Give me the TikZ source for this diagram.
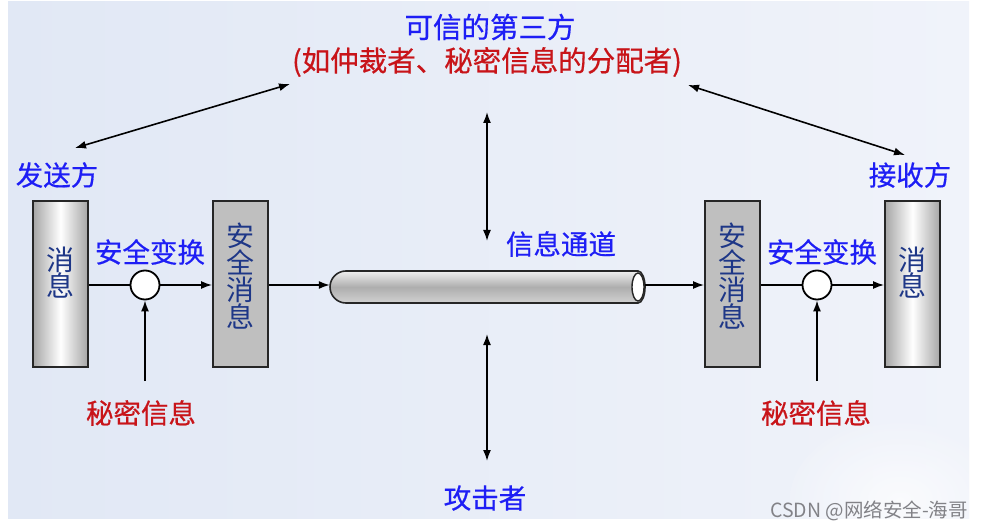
\documentclass[tikz,border=0pt]{standalone}
\usepackage{fontspec}
\setmainfont{Noto Sans CJK SC}[FakeBold=0.5]
\newfontfamily\wmfont{Noto Sans CJK SC}
\usetikzlibrary{arrows.meta}
\definecolor{bgA}{RGB}{225,232,245}
\definecolor{bgB}{RGB}{240,243,250}
\definecolor{tblue}{RGB}{30,30,245}
\definecolor{tred}{RGB}{200,20,25}
\definecolor{tnavy}{RGB}{30,55,135}
\definecolor{wm}{RGB}{130,130,135}
\tikzset{
  conn/.style={line width=1.6pt,black},
  arr/.style={conn,-{Latex[length=11pt,width=8pt]}},
  darr/.style={conn,{Latex[length=11pt,width=8pt]}-{Latex[length=11pt,width=8pt]}},
  bluetxt/.style={text=tblue,font=\fontsize{27.5}{30}\selectfont,inner sep=0pt},
  redtxt/.style={text=tred,font=\fontsize{27.5}{30}\selectfont,inner sep=0pt},
  msgbox/.style={draw=black!85,line width=1.8pt,minimum width=55pt,minimum height=166pt,
    left color=black!35,right color=black!35,middle color=white,
    text=tnavy,font=\wmfont\fontsize{28}{28}\selectfont,align=center,inner sep=0pt},
  safebox/.style={draw=black!85,line width=1.8pt,minimum width=55pt,minimum height=166pt,
    fill=black!25,text=tnavy,font=\wmfont\fontsize{28}{27}\selectfont,align=center,inner sep=0pt},
  xform/.style={circle,draw=black,line width=1.8pt,fill=white,minimum size=29pt,inner sep=0pt},
}
\begin{document}
\begin{tikzpicture}[x=1pt,y=-1pt]
\useasboundingbox (0,0) rectangle (982,529);
\fill[white] (0,0) rectangle (982,529);
\shade[left color=bgA,right color=bgB] (8,2) rectangle (969,518);
\begin{scope}
\clip (8,2) rectangle (969,518);
\shade[inner color=white,outer color=bgB,opacity=0.7] (900,500) ellipse[x radius=110,y radius=80];
\end{scope}

% top texts
\node[bluetxt,font=\fontsize{28.5}{30}\selectfont] (ttp) at (490,27) {可信的第三方};
\node[redtxt,font=\fontsize{28.5}{30}\selectfont] (ttpx) at (487,62) {(如仲裁者、秘密信息的分配者)};
\node[bluetxt] (snd) at (57,175) {发送方};
\node[bluetxt] (rcv) at (910,175) {接收方};

% boxes
\node[msgbox] (m1) at (60.5,284) {消\\[-2pt]息\\[-3pt]};
\node[safebox] (s1) at (240.5,284) {安\\全\\消\\息\\[-9pt]};
\node[safebox] (s2) at (732.5,284) {安\\全\\消\\息\\[-9pt]};
\node[msgbox] (m2) at (912.5,284) {消\\[-2pt]息\\[-3pt]};

% transforms
\node[xform] (c1) at (145,285) {};
\node[xform] (c2) at (817,285) {};
\node[bluetxt] (t1) at (150,252) {安全变换};
\node[bluetxt] (t2) at (822,252) {安全变换};

% tube
\node[minimum width=315pt,minimum height=32pt,inner sep=0pt] (tube) at (487.5,286) {};
\shade[top color=black!6,bottom color=black!18,middle color=black!32,draw=black!85,line width=1.6pt]
  (346,271) -- (638,271) arc[start angle=-90,end angle=90,x radius=7,y radius=16]
  -- (346,303) arc[start angle=90,end angle=270,radius=16] -- cycle;
\draw[line width=1.4pt,draw=black!85,fill=white] (638,287) ellipse[x radius=6,y radius=14];
\node[bluetxt] (chan) at (561,244) {信息通道};

% secrets
\node[redtxt] (k1) at (141,413) {秘密信息};
\node[redtxt] (k2) at (816,413) {秘密信息};
\coordinate (k1top) at (145,381);
\coordinate (k2top) at (817,381);

% attacker
\node[bluetxt] (atk) at (485,498) {攻击者};

% watermark
\node[text=wm,font=\wmfont\fontsize{19.5}{21}\selectfont,inner sep=0pt] (wmk) at (869,511) {CSDN @网络安全-海哥};

% connectors
\draw[conn] (m1.east |- c1) -- (c1.west);
\draw[arr] (c1.east) -- (s1.west |- c1);
\draw[arr] (s1.east |- c1) -- (tube.west |- c1);
\draw[arr] (tube.east |- c2) -- (s2.west |- c2);
\draw[conn] (s2.east |- c2) -- (c2.west);
\draw[arr] (c2.east) -- (m2.west |- c2);
\draw[arr] (k1top) -- (c1.south);
\draw[arr] (k2top) -- (c2.south);

\coordinate (a1) at (75,148);
\coordinate (a2) at (290,84);
\coordinate (b1) at (688,85);
\coordinate (b2) at (905,155);
\coordinate (v1) at (487,112);
\coordinate (v2) at (487,241);
\coordinate (w1) at (487,334);
\coordinate (w2) at (487,461);
\draw[darr] (a1) -- (a2);
\draw[darr] (b1) -- (b2);
\draw[darr] (v1) -- (v2);
\draw[darr] (w1) -- (w2);
\end{tikzpicture}
\end{document}
